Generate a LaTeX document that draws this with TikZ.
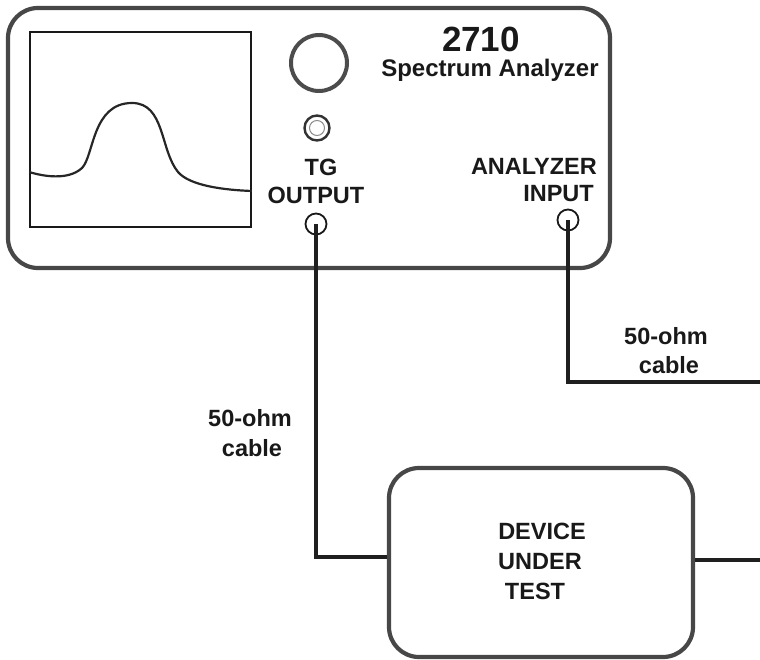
\documentclass[tikz,border=0pt]{standalone}
\usepackage{fontspec}
\setmainfont{Liberation Sans}
\usetikzlibrary{positioning}

\begin{document}
\begin{tikzpicture}[
    x=1pt, y=-1pt,
    panel/.style={draw=black!72, line width=4.2pt, rounded corners=30pt, inner sep=0pt},
    port/.style={circle, draw=black!90, line width=1.8pt, inner sep=0pt, minimum size=21pt},
    cable/.style={draw=black!88, line width=3.8pt},
    label/.style={font=\fontsize{23.5}{26}\selectfont\bfseries, text=black!90, inner sep=0pt, align=center}
]
\useasboundingbox (0,0) rectangle (760,660);

% --- Analyzer front panel ---
\node[panel, minimum width=602pt, minimum height=260pt] (analyzer) at (309,138) {};
\node[draw=black!90, line width=1.6pt, inner sep=0pt, minimum width=221pt, minimum height=195pt] (screen) at (140.5,129.5) {};

% --- Trace on the screen ---
\draw[line width=2.2pt, black!85] (screen.west |- 0,172) .. controls (42,176) and (68,181) .. (82,168)
    .. controls (94,156) and (92,103) .. (132,103)
    .. controls (165,103) and (160,150) .. (178,172)
    .. controls (190,186) and (225,190) .. (screen.east |- 0,191);

% --- Knob and jack ---
\node[circle, draw=black!70, line width=4pt, minimum size=56pt, inner sep=0pt] (knob) at (319,63) {};
\node[circle, draw=black!80, line width=2.4pt, minimum size=25pt, inner sep=0pt] (jack) at (317,128) {};
\node[circle, draw=black!45, line width=1pt, minimum size=15pt, inner sep=0pt] (jackin) at (317,128) {};

% --- Panel text ---
\node[label, font=\fontsize{35}{38}\selectfont\bfseries] (model) at (481,39) {2710};
\node[label, font=\fontsize{24}{26}\selectfont\bfseries] (name) at (490,70) {Spectrum Analyzer};
\node[label] (tg) at (321,167) {TG};
\node[label] (output) at (316,195) {OUTPUT};
\node[label, anchor=east] (analyzerlbl) at (597,166) {ANALYZER};
\node[label, anchor=east] (input) at (594,194) {INPUT};

% --- Ports ---
\node[port] (tgport) at (316,224) {};
\node[port] (inport) at (568,220) {};

% --- Device under test ---
\node[panel, minimum width=304pt, minimum height=189pt] (dut) at (541,562.5) {};
\node[label] (duttxt) at (542,531) {DEVICE};
\node[label] (duttxtb) at (540,562) {UNDER};
\node[label] (duttxtc) at (535,591) {TEST};

% --- Free cable ends ---
\coordinate (dutin) at (dut.west |- 0,557);
\coordinate (dutout) at (dut.east |- 0,560);
\coordinate (rightup) at (760,382);
\coordinate (rightlow) at (760,560);

% --- Cables ---
\draw[cable] (tgport.center) |- (dutin);
\draw[cable] (inport.center) |- (rightup);
\draw[cable] (dutout) -- (rightlow);

% --- Cable labels ---
\node[label] (cablea) at (250,418) {50-ohm};
\node[label] (cableb) at (252,448) {cable};
\node[label] (cablec) at (666,336) {50-ohm};
\node[label] (cabled) at (669,365) {cable};

\end{tikzpicture}
\end{document}
